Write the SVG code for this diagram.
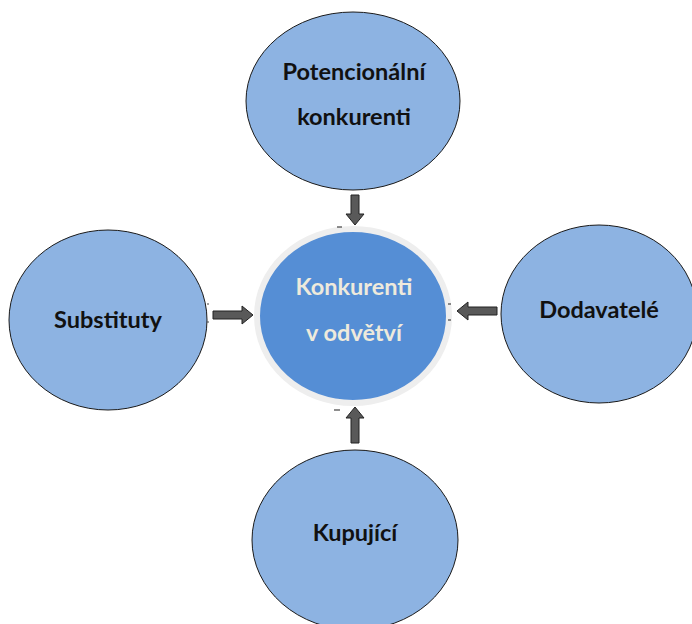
<svg xmlns="http://www.w3.org/2000/svg" width="692" height="624" viewBox="0 0 692 624">
<defs>
<style>
.outer{fill:#8db3e2;stroke:#1a1a1a;stroke-width:1}
.center{fill:#558ed5;stroke:#eeeeee;stroke-width:6}
.lbl{font-family:Lato,"Open Sans","Liberation Sans",sans-serif;font-weight:bold;font-size:23.5px;fill:#111111;text-anchor:middle}
.lblc{font-family:Lato,"Open Sans","Liberation Sans",sans-serif;font-weight:bold;font-size:23.5px;fill:#eeeadc;text-anchor:middle}
.arr{fill:#595959;stroke:#222222;stroke-width:1}
.tick{stroke:#444444;stroke-width:1.2}
</style>
</defs>
<rect width="692" height="624" fill="#ffffff"/>
<g id="node-center">
<ellipse class="center" cx="353" cy="316" rx="96" ry="87"/>
<text class="lblc" x="354" y="295">Konkurenti</text>
<text class="lblc" x="354" y="341">v odvětví</text>
</g>
<g id="node-top">
<ellipse class="outer" cx="353" cy="101" rx="107" ry="89"/>
<text class="lbl" x="354" y="80">Potencionální</text>
<text class="lbl" x="354" y="125">konkurenti</text>
</g>
<g id="node-left">
<ellipse class="outer" cx="108" cy="320" rx="99" ry="90"/>
<text class="lbl" x="108" y="328">Substituty</text>
</g>
<g id="node-right">
<ellipse class="outer" cx="599" cy="314" rx="98" ry="89"/>
<text class="lbl" x="599" y="318">Dodavatelé</text>
</g>
<g id="node-bottom">
<ellipse class="outer" cx="355" cy="540" rx="103" ry="90"/>
<text class="lbl" x="355" y="541">Kupující</text>
</g>
<g id="connectors">
<path class="arr" d="M351,195 H359 V214 H364 L355,225 L346,214 H351 Z"/>
<path class="arr" d="M213,311 H242 V306 L253,315 L242,324 V319 H213 Z"/>
<path class="arr" d="M497,307 H468 V302 L457,311 L468,320 V315 H497 Z"/>
<path class="arr" d="M351,443 H359 V418 H364 L355,407 L346,418 H351 Z"/>
<line class="tick" x1="337" y1="227" x2="342" y2="227"/>
<line class="tick" x1="334" y1="410" x2="340" y2="410"/>
<line class="tick" x1="207" y1="304" x2="209" y2="304"/>
<line class="tick" x1="207" y1="322" x2="209" y2="322"/>
<line class="tick" x1="448" y1="304" x2="451" y2="304"/>
<line class="tick" x1="448" y1="320" x2="451" y2="320"/>
</g>
</svg>
